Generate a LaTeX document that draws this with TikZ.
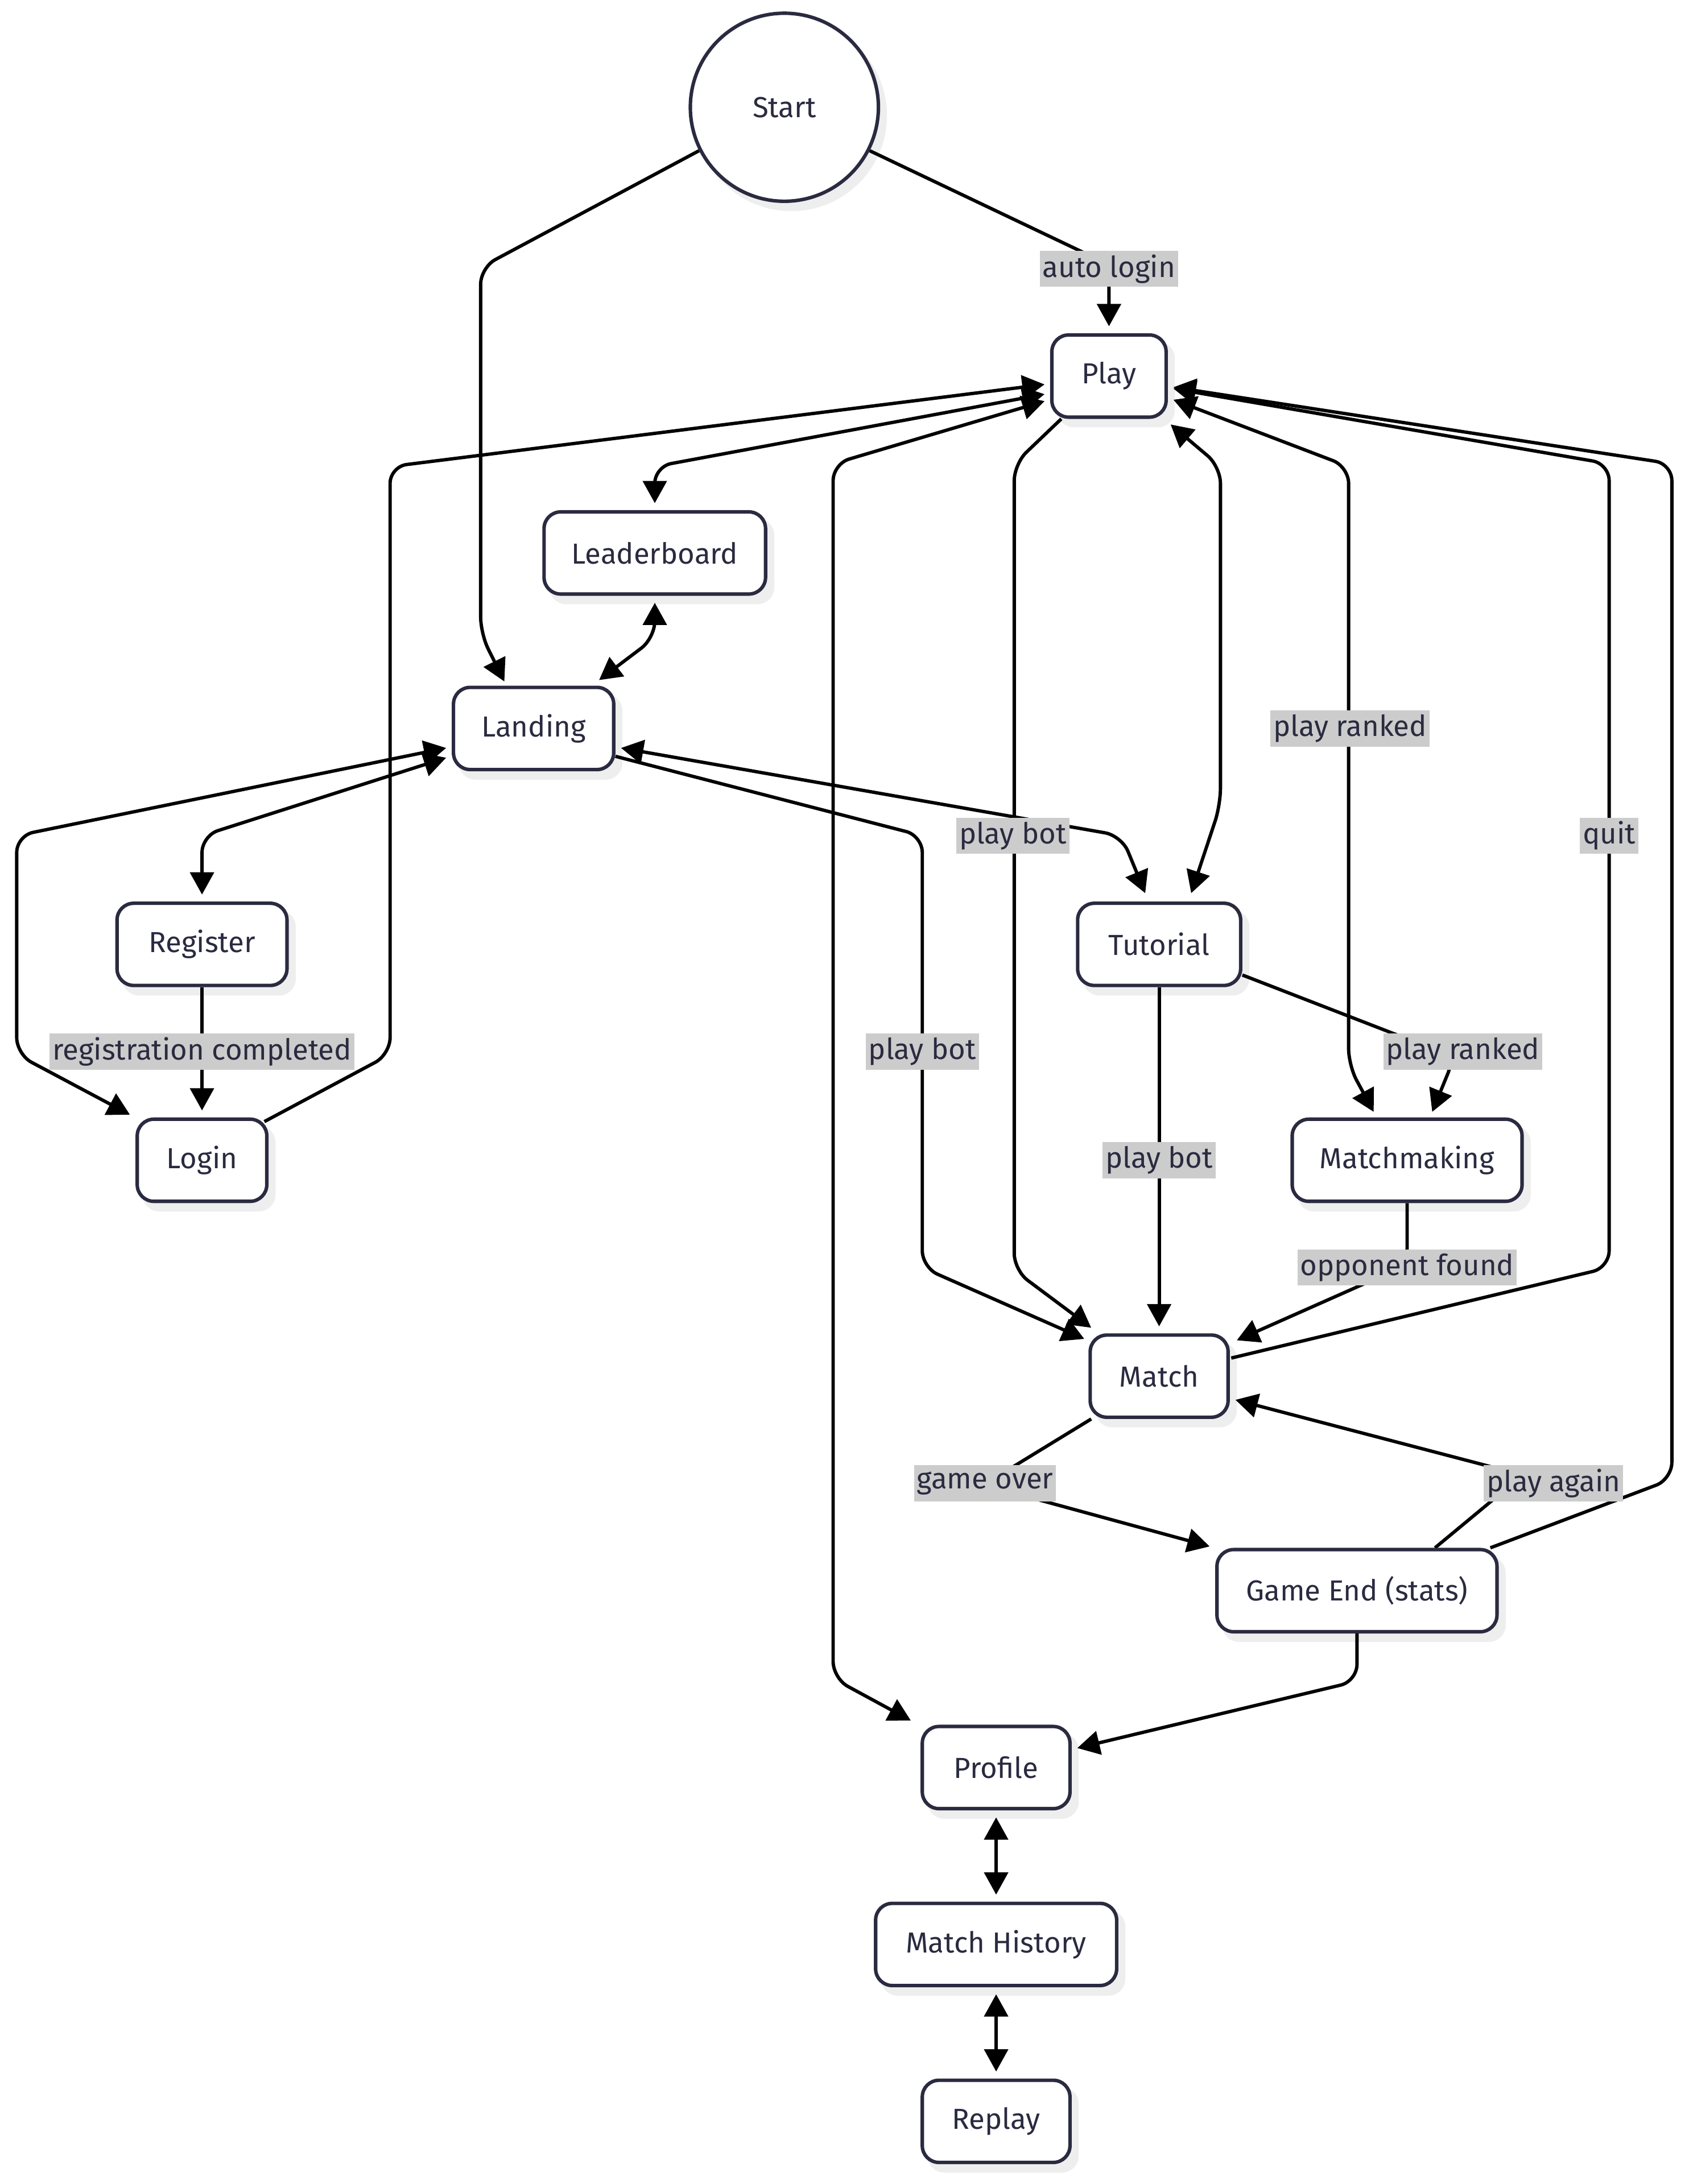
\documentclass[tikz,border=0pt]{standalone}
\usepackage{fontspec}
\setmainfont{Fira Sans}
\usetikzlibrary{arrows.meta,calc}
\definecolor{nodeline}{RGB}{42,42,64}
\definecolor{txt}{RGB}{42,42,64}
\definecolor{lbl}{RGB}{204,204,204}
\definecolor{shd}{RGB}{238,238,238}
\pgfdeclarelayer{background}
\pgfdeclarelayer{foreground}
\pgfsetlayers{background,main,foreground}
\begin{document}
\begin{tikzpicture}[x=0.5pt,y=-0.5pt,
  every node/.style={font=\fontsize{10.4}{12}\selectfont, text=txt},
  state/.style={draw=nodeline, line width=1.25pt, fill=white, rounded corners=6pt, minimum height=29.5pt, inner sep=0pt},
  startnode/.style={draw=nodeline, line width=1.25pt, fill=white, circle, minimum size=67.5pt, inner sep=0pt},
  edge/.style={draw=black, line width=1.2pt, rounded corners=6pt},
  arr/.style={-{Triangle[length=8pt,width=8.5pt]}},
  biarr/.style={{Triangle[length=8pt,width=8.5pt]}-{Triangle[length=8pt,width=8.5pt]}},
  lab/.style={fill=lbl, inner xsep=1pt, inner ysep=0pt, minimum height=13pt}
]
\useasboundingbox (0,0) rectangle (1215,1568);

\begin{pgfonlayer}{foreground}
\node[startnode] (Start) at (563,77) {Start};
\node[state, minimum width=41pt] (Play) at (796,270) {Play};
\node[state, minimum width=79.5pt] (Leaderboard) at (470,397) {Leaderboard};
\node[state, minimum width=57.5pt] (Landing) at (383,523) {Landing};
\node[state, minimum width=61pt] (Register) at (145,678) {Register};
\node[state, minimum width=46.5pt] (Login) at (145,833) {Login};
\node[state, minimum width=58.5pt] (Tutorial) at (832,678) {Tutorial};
\node[state, minimum width=82.5pt] (Matchmaking) at (1010,833) {Matchmaking};
\node[state, minimum width=49.5pt] (Match) at (832,988) {Match};
\node[state, minimum width=100.5pt] (GameEnd) at (974,1142) {Game End (stats)};
\node[state, minimum width=53pt] (Profile) at (715,1269) {Profile};
\node[state, minimum width=86.5pt] (MatchHistory) at (715,1396) {Match History};
\node[state, minimum width=53pt] (Replay) at (715,1523) {Replay};
\end{pgfonlayer}

\begin{pgfonlayer}{background}
\fill[white] (0,0) rectangle (1215,1568);
\foreach \n in {Play,Leaderboard,Landing,Register,Login,Tutorial,Matchmaking,Match,GameEnd,Profile,MatchHistory,Replay}
  \fill[shd, rounded corners=6pt] ([shift={(2.5pt,-3pt)}]\n.south west) rectangle ([shift={(2.5pt,-3pt)}]\n.north east);
\fill[shd] ([shift={(2.5pt,-3pt)}]Start.center) circle (34.3pt);
\end{pgfonlayer}

% edges
\draw[edge,arr] (Start.207) -- (345,192) -- (345,455) -- ($(Landing.north)+(-21,-3)$);
\draw[edge,arr] (Start.-27) -- (796,190) -- ($(Play.north)+(0,-5)$);
\draw[edge,biarr] ($(Play.west)+(-4,13)$) -- (470,335) -- ($(Leaderboard.north)+(0,-5)$);
\draw[edge,biarr] ($(Leaderboard.south)+(0,5)$) -- (470,458) -- ($(Landing.north)+(47,-4)$);
\draw[edge,biarr] ($(Landing.west)+(-4,21)$) -- (145,600) -- ($(Register.north)+(0,-5)$);
\draw[edge,biarr] ($(Landing.west)+(-4,14)$) -- (12,600) -- (12,757) -- ($(Login.north west)+(-4,-2)$);
\draw[edge,arr] (Register.south) -- ($(Login.north)+(0,-5)$);
\draw[edge,arr] ($(Login.north east)+(-3,3)$) -- (280,757) -- (280,335) -- ($(Play.west)+(-4,6)$);
\draw[edge,biarr] ($(Play.west)+(-4,18)$) -- (598,333) -- (598,1205) -- ($(Profile.north west)+(-7,-3)$);
\draw[edge,arr] ($(Play.south west)+(8,0)$) -- (728,333) -- (728,912) -- ($(Match.north west)+(2,-4)$);
\draw[edge,biarr] ($(Play.south east)+(2,4)$) -- (876,335) -- (876,578) -- ($(Tutorial.north)+(23,-6)$);
\draw[edge,biarr] ($(Play.east)+(4,17)$) -- (968,335) -- (968,765) -- ($(Matchmaking.north)+(-24,-4)$);
\draw[edge,arr] ($(Match.east)+(1,-13)$) -- (1155,910) -- (1155,333) -- ($(Play.east)+(4,9)$);
\draw[edge,arr] ($(GameEnd.north east)+(-6,0)$) -- (1200,1062) -- (1200,333) -- ($(Play.east)+(4,8)$);
\draw[edge,arr] ($(GameEnd.north)+(56,0)$) -- (1093,1059) -- ($(Match.east)+(4,17)$);
\draw[edge,arr] ($(Match.south west)+(2,0)$) -- (706,1066) -- ($(GameEnd.north west)+(-4,-1)$);
\draw[edge,arr] (Matchmaking.south) -- (1010,908) -- ($(Match.north east)+(5,5)$);
\draw[edge,arr] (Tutorial.south) -- ($(Match.north)+(0,-5)$);
\draw[edge,arr] ($(Tutorial.east)+(0,22)$) -- (1044,759) -- ($(Matchmaking.north)+(18,-4)$);
\draw[edge,biarr] ($(Landing.east)+(4,14)$) -- (805,600) -- ($(Tutorial.north)+(-10,-6)$);
\draw[edge,arr] ($(Landing.east)+(0,20)$) -- (662,600) -- (662,910) -- ($(Match.north west)+(-3,4)$);
\draw[edge,arr] (GameEnd.south) -- (974,1207) -- ($(Profile.east)+(4,-14)$);
\draw[edge,biarr] ($(Profile.south)+(0,5)$) -- ($(MatchHistory.north)+(0,-5)$);
\draw[edge,biarr] ($(MatchHistory.south)+(0,5)$) -- ($(Replay.north)+(0,-5)$);

\begin{pgfonlayer}{foreground}
\node[lab] (L1) at (796,193) {auto login};
\node[lab] (L2) at (969,523) {play ranked};
\node[lab] (L3) at (727,600) {play bot};
\node[lab] (L4) at (1155,600) {quit};
\node[lab] (L5) at (145,755) {registration completed};
\node[lab] (L6) at (662,755) {play bot};
\node[lab] (L7) at (1050,755) {play ranked};
\node[lab] (L8) at (832,833) {play bot};
\node[lab] (L9) at (1010,910) {opponent found};
\node[lab] (L10) at (707,1065) {game over};
\node[lab] (L11) at (1115,1065) {play again};
\end{pgfonlayer}
\end{tikzpicture}
\end{document}
